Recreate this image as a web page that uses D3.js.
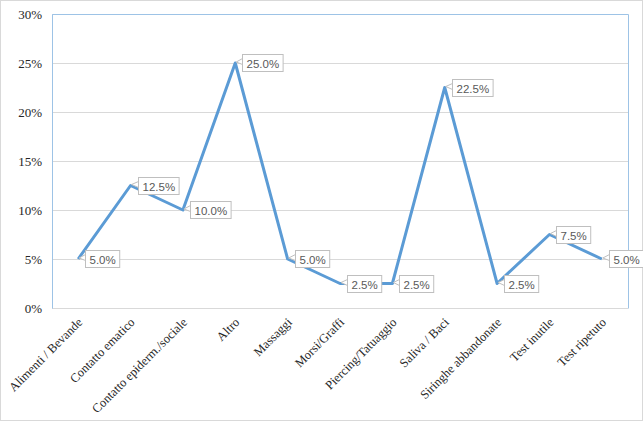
<!DOCTYPE html>
<html><head><meta charset="utf-8">
<script src="https://cdn.jsdelivr.net/npm/d3@7"></script>
<style>body{margin:0;background:#fff}</style>
</head><body><div id="c"></div>
<script>
const categories = ["Alimenti / Bevande","Contatto ematico","Contatto epiderm./sociale","Altro","Massaggi","Morsi/Graffi","Piercing/Tatuaggio","Saliva / Baci","Siringhe abbandonate","Test inutile","Test ripetuto"];
const values = [0.05,0.125,0.10,0.25,0.05,0.025,0.025,0.225,0.025,0.075,0.05];
const yTicks = [0,0.05,0.10,0.15,0.20,0.25,0.30];

const W=643,H=421;
const m={l:52,r:15,t:14,b:113};
const svg=d3.select("#c").append("svg").attr("width",W).attr("height",H);
svg.append("rect").attr("x",0.5).attr("y",0.5).attr("width",W-1).attr("height",H-1).attr("fill","#fff").attr("stroke","#d9d9d9");
const x=d3.scaleBand().domain(categories).range([m.l,W-m.r]);
const y=d3.scaleLinear().domain([0,0.3]).range([H-m.b,m.t]);
const fmt=d3.format(".0%");
// gridlines
svg.append("g").selectAll("line").data(yTicks).join("line")
 .attr("x1",m.l).attr("x2",W-m.r).attr("y1",d=>Math.round(y(d))+0.5).attr("y2",d=>Math.round(y(d))+0.5)
 .attr("stroke","#d9d9d9");
// plot border
svg.append("path").attr("d",`M${m.l+0.5},${Math.round(y(0))+0.5}V${m.t+0.5}H${W-m.r+0.5}V${Math.round(y(0))+0.5}`)
 .attr("fill","none").attr("stroke","#9dc3e6");
// y axis labels
const ya=svg.append("g").attr("transform",`translate(${m.l},0)`).call(d3.axisLeft(y).tickValues(yTicks).tickFormat(fmt).tickSize(0).tickPadding(10));
ya.select(".domain").remove();
ya.selectAll("text").attr("font-family","'Liberation Serif','Times New Roman',serif").attr("font-size",13).attr("fill","#262626");
// x axis labels
const xa=svg.append("g").attr("transform",`translate(0,${y(0)})`).call(d3.axisBottom(x).tickSize(0).tickPadding(0));
xa.select(".domain").remove();
xa.selectAll("text").attr("font-family","'Liberation Serif','Times New Roman',serif").attr("font-size",12.5).attr("fill","#262626")
 .attr("text-anchor","end").attr("dy",0).attr("transform","translate(5,15) rotate(-45)");
// line
const line=d3.line().x((d,i)=>x(categories[i])+x.bandwidth()/2).y(d=>y(d));
svg.append("path").datum(values).attr("d",line).attr("fill","none").attr("stroke","#5b9bd5").attr("stroke-width",3).attr("stroke-linejoin","round");
// labels
const lf="'Liberation Sans',Arial,sans-serif";
const lg=svg.append("g");
values.forEach((v,i)=>{
  const px=x(categories[i])+x.bandwidth()/2, py=y(v);
  const t=d3.format(".1%")(v);
  const g=lg.append("g");
  const tx=g.append("text").attr("font-family",lf).attr("font-size",11.5).attr("fill","#595959").text(t);
  const w=tx.node().getComputedTextLength()+8;
  const bx=Math.round(px+7)+0.5, by=Math.round(py-8.5)+0.5;
  g.insert("path","text").attr("d",`M${px+1},${py-1}L${bx},${by+4}L${bx},${by+10}Z`).attr("fill","#fff").attr("stroke","#bfbfbf");
  g.insert("rect","text").attr("x",bx).attr("y",by).attr("width",w).attr("height",17).attr("fill","#fff").attr("stroke","#bfbfbf");
  tx.attr("x",bx+4).attr("y",by+13);
});
</script></body></html>
